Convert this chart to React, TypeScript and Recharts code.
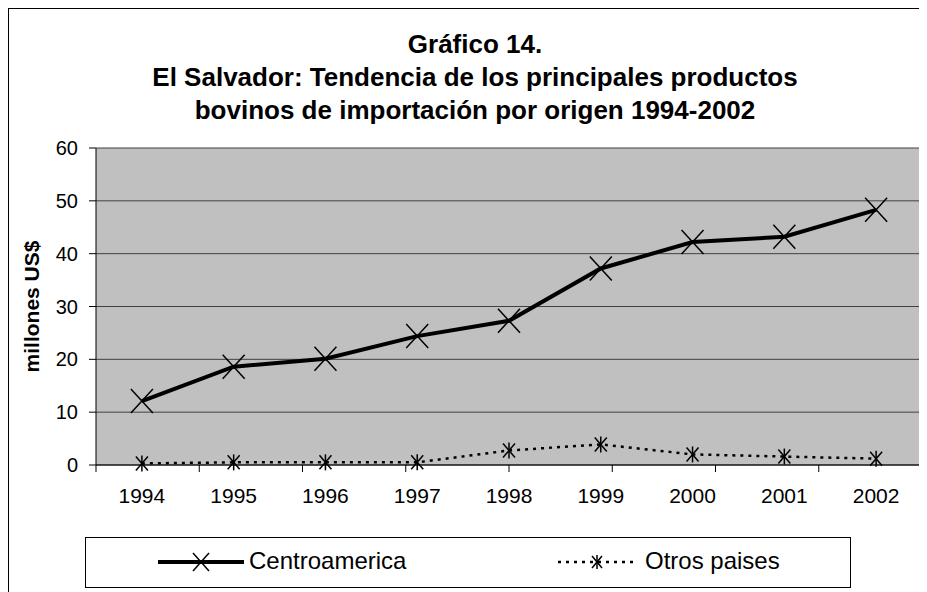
import { LineChart, Line, XAxis, YAxis, CartesianGrid, ReferenceArea } from "recharts";

const years = ["1994", "1995", "1996", "1997", "1998", "1999", "2000", "2001", "2002"];
const centroamerica = [12.1, 18.6, 20.1, 24.4, 27.3, 37.2, 42.2, 43.2, 48.3];
const otrosPaises = [0.3, 0.5, 0.5, 0.5, 2.75, 3.9, 2.0, 1.6, 1.2];
const yTicks = [0, 10, 20, 30, 40, 50, 60];
const boundaryTicks = [0, 1, 2, 3, 4, 5, 6, 7, 8, 9];

const titleLines = [
  "Gráfico 14.",
  "El Salvador: Tendencia de los principales productos",
  "bovinos de importación por origen 1994-2002",
];

const data = years.map((year, i) => ({
  year,
  centroamerica: centroamerica[i],
  otros: otrosPaises[i],
}));

const font = "Arial, 'Liberation Sans', sans-serif";

function crossMark(cx: number, cy: number, w: number, h: number) {
  return (
    <>
      <line x1={cx - w} y1={cy - h} x2={cx + w} y2={cy + h} stroke="#000" strokeWidth={1.5} />
      <line x1={cx - w} y1={cy + h} x2={cx + w} y2={cy - h} stroke="#000" strokeWidth={1.5} />
    </>
  );
}

const renderCross = (p: any) => (
  <g key={`c-${p.index}`}>{crossMark(p.cx, p.cy, 11, 12)}</g>
);

const renderStar = (p: any) => (
  <g key={`s-${p.index}`}>
    {crossMark(p.cx, p.cy, 6, 7)}
    <line x1={p.cx} y1={p.cy - 8} x2={p.cx} y2={p.cy + 8} stroke="#000" strokeWidth={1.5} />
  </g>
);

function LegendBox() {
  return (
    <div
      style={{
        position: "absolute",
        left: 77,
        top: 529,
        width: 766,
        height: 51,
        boxSizing: "border-box",
        border: "1px solid #000",
        background: "#fff",
        fontSize: 24,
        fontFamily: font,
      }}
    >
      <svg style={{ position: "absolute", left: 72, top: 12 }} width={86} height={26}>
        <line x1={0} y1={12} x2={86} y2={12} stroke="#000" strokeWidth={4} />
        {crossMark(43, 12, 8, 9)}
      </svg>
      <span style={{ position: "absolute", left: 163, top: 8, lineHeight: "30px" }}>Centroamerica</span>
      <svg style={{ position: "absolute", left: 472, top: 12 }} width={78} height={26}>
        <line x1={0} y1={12} x2={78} y2={12} stroke="#000" strokeWidth={2.5} strokeDasharray="3 5" />
        {crossMark(39, 12, 5, 6)}
        <line x1={39} y1={5} x2={39} y2={19} stroke="#000" strokeWidth={1.5} />
      </svg>
      <span style={{ position: "absolute", left: 559, top: 8, lineHeight: "30px" }}>Otros paises</span>
    </div>
  );
}

export default function App() {
  return (
    <div style={{ position: "relative", width: 919, height: 584, fontFamily: font }}>
      <div
        style={{
          position: "absolute",
          left: 0,
          top: 0,
          width: 919,
          height: 584,
          borderLeft: "1px solid #000",
          borderTop: "1px solid #000",
          boxSizing: "border-box",
        }}
      />
      <div
        style={{
          position: "absolute",
          left: 0,
          top: 20,
          width: 934,
          textAlign: "center",
          fontWeight: "bold",
          fontSize: 26,
          lineHeight: "33px",
          color: "#000",
        }}
      >
        {titleLines.map((t) => (
          <div key={t}>{t}</div>
        ))}
      </div>
      <LineChart
        width={919}
        height={584}
        data={data}
        margin={{ top: 140, right: 5, bottom: 125, left: 0 }}
      >
        <CartesianGrid vertical={false} fill="#C0C0C0" stroke="#404040" />
        <XAxis
          xAxisId={0}
          type="number"
          domain={[0, 9]}
          ticks={boundaryTicks}
          allowDataOverflow
          height={1}
          tickSize={7}
          tick={() => <g />}
          axisLine={{ stroke: "#000" }}
          tickLine={{ stroke: "#000" }}
        />
        <XAxis
          xAxisId="year"
          dataKey="year"
          scale="band"
          height={1}
          interval={0}
          axisLine={false}
          tickLine={false}
          tickSize={0}
          tickMargin={22}
          tick={{ fill: "#000", fontSize: 21, fontFamily: font }}
        />
        <YAxis
          domain={[0, 60]}
          ticks={yTicks}
          interval={0}
          width={88}
          tickSize={7}
          tickMargin={11}
          axisLine={{ stroke: "#000" }}
          tickLine={{ stroke: "#000" }}
          tick={{ fill: "#000", fontSize: 20, fontFamily: font }}
          label={{
            value: "millones US$",
            angle: -90,
            position: "insideLeft",
            offset: 24,
            style: { textAnchor: "middle", fontWeight: "bold", fontSize: 21, fill: "#000", fontFamily: font },
          }}
        />
        <ReferenceArea
          xAxisId={0}
          x1={0}
          x2={9}
          y1={0}
          y2={60}
          fill="none"
          stroke="#808080"
          strokeWidth={2}
        />
        <Line
          xAxisId="year"
          dataKey="centroamerica"
          stroke="#000"
          strokeWidth={4}
          dot={renderCross}
          activeDot={false}
          isAnimationActive={false}
        />
        <Line
          xAxisId="year"
          dataKey="otros"
          stroke="#000"
          strokeWidth={2.5}
          strokeDasharray="3 5"
          dot={renderStar}
          activeDot={false}
          isAnimationActive={false}
        />
      </LineChart>
      <LegendBox />
    </div>
  );
}
